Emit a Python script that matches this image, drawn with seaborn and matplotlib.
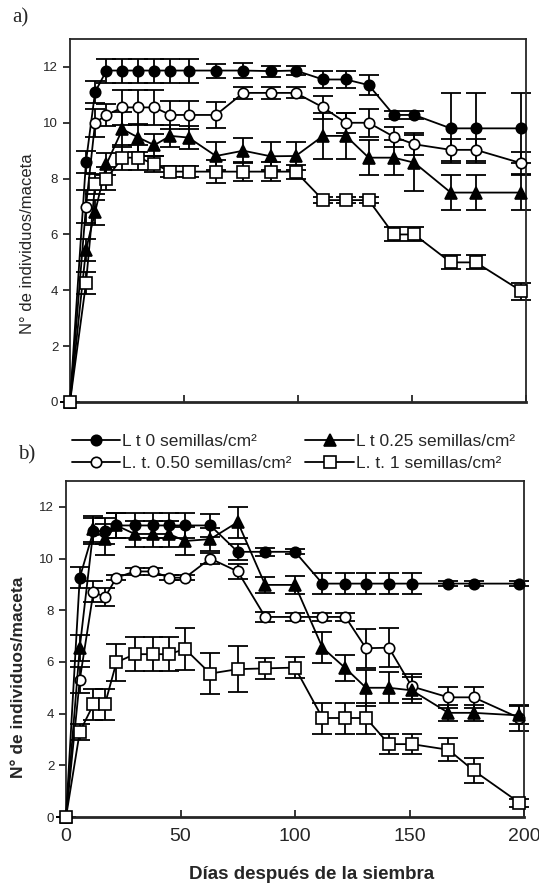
import seaborn as sns
import matplotlib.pyplot as plt
import numpy as np

# Days after sowing
days_a = [0, 7, 11, 16, 23, 30, 37, 44, 52, 64, 76, 88, 99, 111, 121, 131, 142, 151, 167, 178, 198]
days_b = [0, 6, 12, 17, 22, 30, 38, 45, 52, 63, 75, 87, 100, 112, 122, 131, 141, 151, 167, 178, 198]

# Panel a) means and errors
a_lt0 = [0, 8.6, 11.1, 11.87, 11.87, 11.87, 11.87, 11.87, 11.87, 11.87, 11.87, 11.85, 11.87,
         11.55, 11.55, 11.35, 10.28, 10.28, 9.8, 9.8, 9.8]
a_lt0_err = [0, 0.4, 0.4, 0.43, 0.43, 0.43, 0.43, 0.43, 0.43, 0.25, 0.28, 0.2, 0.15,
             0.3, 0.3, 0.35, 0.15, 0.15, 1.25, 1.25, 1.25]
a_lt025 = [0, 5.45, 6.8, 8.52, 9.77, 9.47, 9.2, 9.53, 9.47, 8.81, 9.0, 8.8, 8.81,
           9.53, 9.53, 8.75, 8.75, 8.57, 7.5, 7.5, 7.5]
a_lt025_err = [0, 0.4, 0.45, 0.4, 0.63, 0.5, 0.4, 0.4, 0.4, 0.5, 0.45, 0.5, 0.5,
               0.83, 0.83, 0.63, 0.63, 1.0, 0.62, 0.62, 0.62]
a_lt050 = [0, 7.0, 10.0, 10.28, 10.55, 10.55, 10.55, 10.28, 10.28, 10.28, 11.07, 11.07, 11.07,
           10.55, 10.0, 10.0, 9.5, 9.23, 9.03, 9.03, 8.55]
a_lt050_err = [0, 0.6, 0.5, 0.4, 0.63, 0.63, 0.63, 0.5, 0.5, 0.48, 0.22, 0.22, 0.2,
               0.4, 0.35, 0.5, 0.35, 0.4, 0.4, 0.4, 0.4]
a_lt1 = [0, 4.25, 7.8, 8.0, 8.75, 8.75, 8.52, 8.25, 8.25, 8.25, 8.25, 8.25, 8.25,
         7.23, 7.23, 7.23, 6.0, 6.0, 5.0, 5.0, 3.97]
a_lt1_err = [0, 0.4, 0.35, 0.4, 0.45, 0.45, 0.3, 0.2, 0.2, 0.4, 0.35, 0.35, 0.25,
             0.1, 0.1, 0.1, 0.25, 0.25, 0.25, 0.25, 0.3]

# Panel b) means and errors
b_lt0 = [0, 9.26, 11.07, 11.05, 11.28, 11.28, 11.28, 11.28, 11.28, 11.28, 10.26, 10.26, 10.26,
         9.03, 9.03, 9.03, 9.03, 9.03, 9.03, 9.03, 9.03]
b_lt0_err = [0, 0.4, 0.5, 0.5, 0.5, 0.47, 0.47, 0.47, 0.47, 0.45, 0.3, 0.15, 0.1,
             0.4, 0.4, 0.4, 0.4, 0.4, 0.1, 0.1, 0.1]
b_lt025 = [0, 6.55, 11.14, 10.75, 11.28, 10.95, 10.95, 10.95, 10.68, 10.75, 11.41, 8.98, 8.98,
           6.55, 5.76, 5.0, 5.0, 4.9, 4.03, 4.03, 3.93]
b_lt025_err = [0, 0.5, 0.5, 0.6, 0.5, 0.5, 0.5, 0.5, 0.55, 0.45, 0.6, 0.3, 0.35,
               0.6, 0.5, 0.7, 0.6, 0.5, 0.3, 0.3, 0.35]
b_lt050 = [0, 5.3, 8.72, 8.5, 9.26, 9.5, 9.5, 9.26, 9.26, 10.0, 9.5, 7.74, 7.74,
           7.74, 7.74, 6.53, 6.55, 5.05, 4.63, 4.63, 3.83]
b_lt050_err = [0, 0.5, 0.4, 0.35, 0.1, 0.15, 0.15, 0.1, 0.1, 0.2, 0.3, 0.2, 0.15,
               0.15, 0.15, 0.75, 0.75, 0.5, 0.4, 0.4, 0.5]
b_lt1 = [0, 3.29, 4.36, 4.36, 5.98, 6.3, 6.3, 6.3, 6.5, 5.55, 5.72, 5.75, 5.78,
         3.83, 3.83, 3.83, 2.82, 2.82, 2.6, 1.8, 0.55]
b_lt1_err = [0, 0.3, 0.6, 0.6, 0.7, 0.65, 0.65, 0.65, 0.8, 0.8, 0.9, 0.4, 0.4,
             0.6, 0.6, 0.6, 0.4, 0.4, 0.45, 0.5, 0.15]

labels = ['L t 0 semillas/cm²', 'L. t. 0.50 semillas/cm²', 'L t 0.25 semillas/cm²', 'L. t. 1 semillas/cm²']
x_ticks = [0, 50, 100, 150, 200]
y_ticks = [0, 2, 4, 6, 8, 10, 12]

sns.set_style('ticks')
plt.rcParams['font.family'] = ['Liberation Sans', 'DejaVu Sans']

# marker style per series (same order as labels)
styles = [
    dict(marker='o', markerfacecolor='black', markersize=7.5),
    dict(marker='o', markerfacecolor='white', markersize=7.5),
    dict(marker='^', markerfacecolor='black', markersize=8),
    dict(marker='s', markerfacecolor='white', markersize=8),
]

fig = plt.figure(figsize=(5.39, 8.88), dpi=100)
ax_a = fig.add_axes([70 / 539, 1 - 402 / 888, 456 / 539, 363 / 888])
ax_b = fig.add_axes([66 / 539, 1 - 817 / 888, 458 / 539, 336 / 888])


def draw_panel(ax, days, series, errors):
    for vals, errs, lab, st in zip(series, errors, labels, styles):
        ax.errorbar(days, vals, yerr=errs, fmt='none', ecolor='black', elinewidth=1.3,
                    capsize=7, capthick=1.3, zorder=2)
        sns.lineplot(x=days, y=vals, ax=ax, color='black', linewidth=1.3,
                     markeredgecolor='black', markeredgewidth=1.2, label=lab,
                     zorder=3, **st)
    ax.set_xlim(0, 200)
    ax.set_ylim(0, 13)
    ax.set_xticks(x_ticks)
    ax.set_yticks(y_ticks)
    ax.tick_params(axis='x', direction='in', length=5, width=1.3)
    ax.tick_params(axis='y', direction='out', length=5, width=1.3, labelsize=9.5)
    for sp in ax.spines.values():
        sp.set_visible(True)
        sp.set_linewidth(1.3)
    ax.spines['bottom'].set_linewidth(2)
    ax.get_legend().remove()
    for l in ax.get_lines():
        l.set_clip_on(False)


draw_panel(ax_a, days_a, [a_lt0, a_lt050, a_lt025, a_lt1],
           [a_lt0_err, a_lt050_err, a_lt025_err, a_lt1_err])
draw_panel(ax_b, days_b, [b_lt0, b_lt050, b_lt025, b_lt1],
           [b_lt0_err, b_lt050_err, b_lt025_err, b_lt1_err])

ax_a.set_xticklabels([])
ax_a.set_ylabel('N° de individuos/maceta', fontsize=12)
ax_a.yaxis.set_label_coords(-0.077, 0.435)
ax_b.set_xticklabels([str(t) for t in x_ticks], fontsize=14)
ax_b.tick_params(axis='x', pad=8)
ax_b.set_ylabel('N° de individuos/maceta', fontsize=12.5, fontweight='bold')
ax_b.yaxis.set_label_coords(-0.088, 0.417)
fig.text(312 / 539, 1 - 874 / 888, 'Días después de la siembra', fontsize=13.5,
         fontweight='bold', ha='center', va='center')

handles, labs = ax_a.get_legend_handles_labels()
fig.legend(handles[:4], labs[:4], ncol=2, loc='upper left', frameon=False,
           bbox_to_anchor=(56 / 539, 1 - 418 / 888), fontsize=12.5,
           handlelength=2.8, handletextpad=0.1, columnspacing=0.8, labelspacing=0.42)

fig.text(12 / 539, 1 - 18 / 888, 'a)', fontsize=15, family=['Liberation Serif', 'DejaVu Serif'], va='center')
fig.text(18 / 539, 1 - 455 / 888, 'b)', fontsize=15, family=['Liberation Serif', 'DejaVu Serif'], va='center')

fig.savefig('out.png', dpi=100)
